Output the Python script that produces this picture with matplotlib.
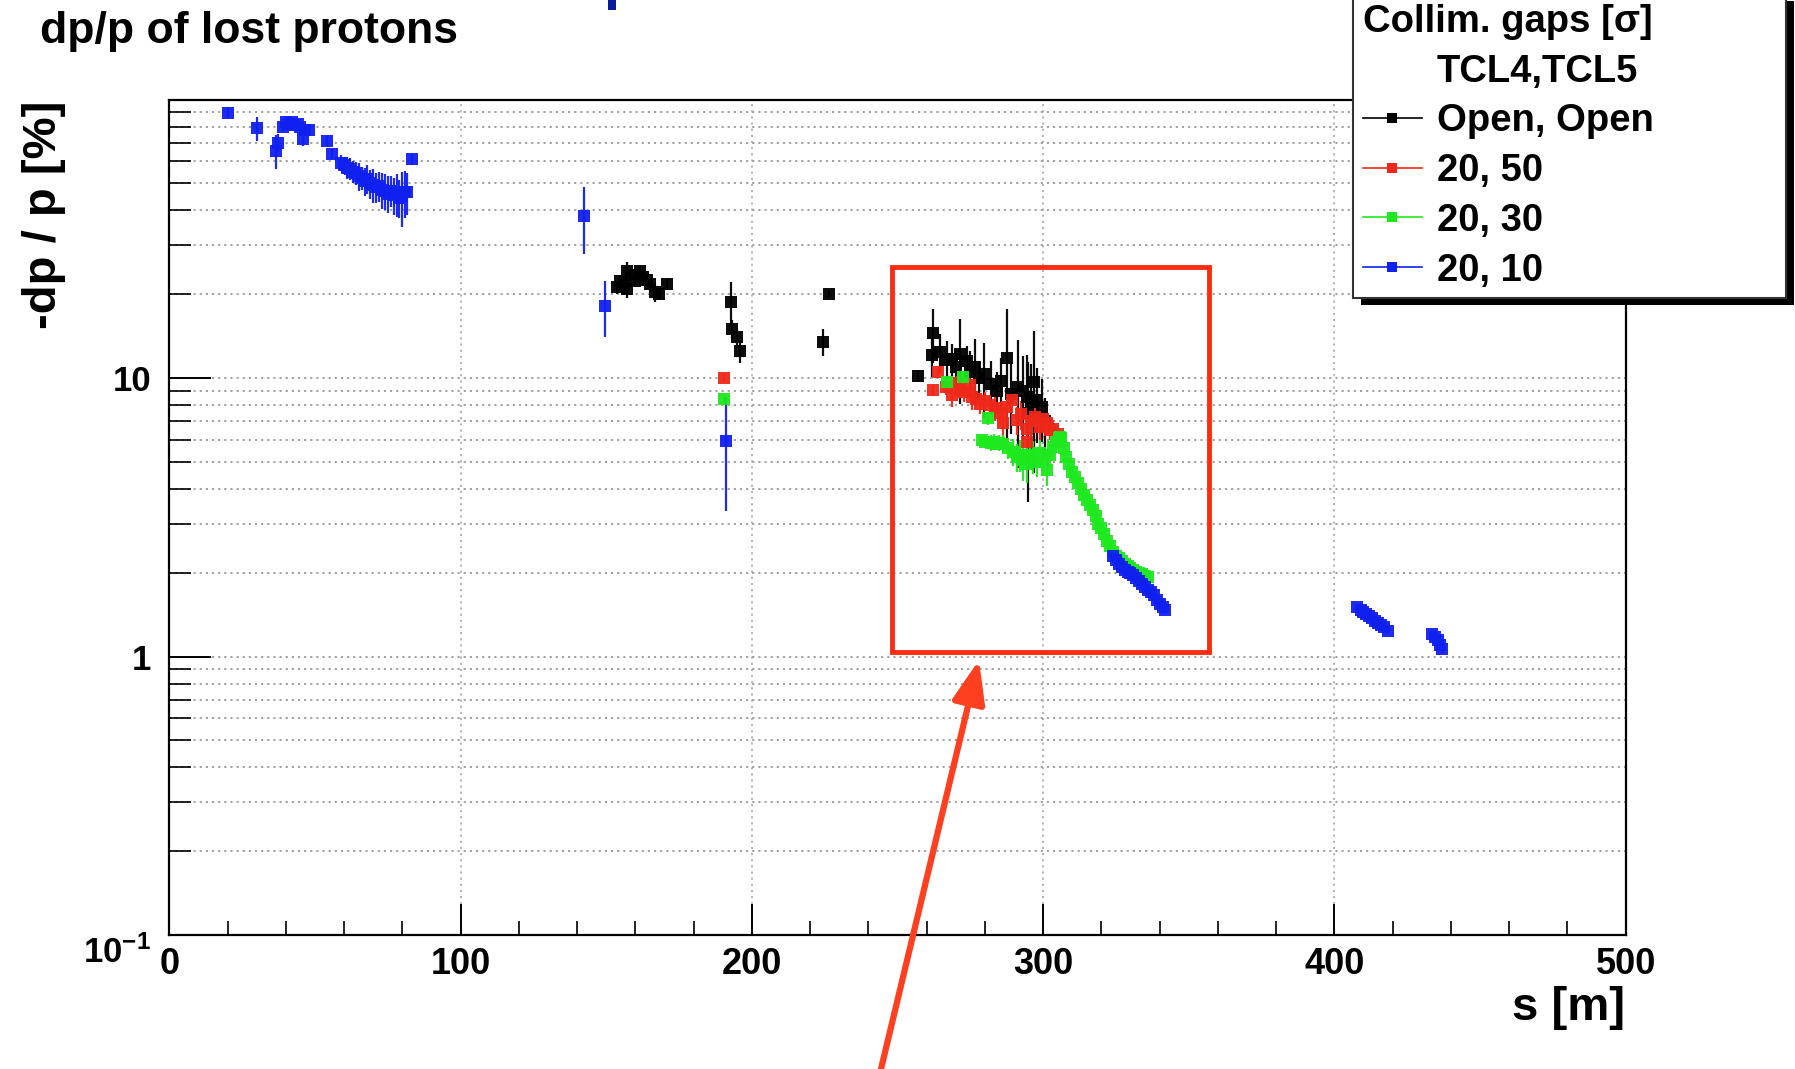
import numpy as np
import matplotlib
matplotlib.use('Agg')
import matplotlib.pyplot as plt
import matplotlib.ticker as ticker
from matplotlib.patches import Rectangle, FancyArrowPatch
from matplotlib.lines import Line2D

plt.rcParams['font.family'] = ['Liberation Sans', 'DejaVu Sans']
plt.rcParams['font.weight'] = 'bold'
plt.rcParams['mathtext.fontset'] = 'custom'
plt.rcParams['mathtext.rm'] = 'Liberation Sans:bold'
plt.rcParams['mathtext.bf'] = 'Liberation Sans:bold'

# ---- data: s [m], -dp/p [%], error ----
s_open = [153.6, 154.7, 156.0, 157.0, 157.0, 158.5, 159.9, 161.6, 162.7, 164.0, 165.0, 166.7, 168.0, 170.8,
          192.7, 193.1, 194.8, 195.9,
          224.5, 226.6,
          256.9, 261.7, 262.3, 264.6, 266.9, 268.6, 270.0, 271.5, 273.8, 275.0, 276.6, 278.0, 279.8,
          282.0, 284.0, 285.5, 287.5, 289.0, 291.5, 293.0, 294.3, 294.9, 296.0, 296.9, 297.8, 299.5, 300.5]
dp_open = [21.2, 22.4, 21.5, 24.3, 20.9, 23.5, 22.4, 24.3, 23.0, 22.5, 21.8, 20.3, 20.0, 21.7,
           18.7, 15.0, 14.0, 12.5,
           13.5, 20.1,
           10.2, 12.1, 14.5, 12.4, 11.6, 11.7, 11.0, 12.2, 11.5, 10.5, 10.96, 10.0, 10.3,
           9.5, 9.0, 9.8, 11.8, 8.8, 9.25, 9.0, 8.56, 7.5, 8.2, 9.68, 8.33, 7.9, 7.0]
err_open = [1.2, 1.0, 1.5, 1.8, 1.5, 1.0, 1.2, 1.0, 1.3, 1.0, 1.2, 1.6, 1.0, 1.0,
            3.4, 1.2, 1.0, 1.2,
            1.5, 0.6,
            0.5, 2.0, 3.2, 2.0, 2.0, 1.5, 1.5, 4.1, 1.5, 2.0, 2.8, 1.5, 3.1,
            2.0, 1.5, 2.0, 5.9, 2.5, 4.5, 3.0, 3.5, 3.9, 3.0, 5.1, 2.5, 2.0, 1.5]

s_50 = [190.5, 262.1, 264.0, 266.5, 268.6, 270.3, 271.5, 273.0, 274.9, 275.5, 277.0, 278.3, 280.0,
        281.8, 283.5, 285.2, 286.3, 287.5, 289.2, 290.9, 292.5, 294.4, 294.6, 296.0, 297.2, 298.9,
        300.0, 301.2, 302.5, 303.5, 305.2]
dp_50 = [10.0, 9.04, 10.5, 9.3, 8.67, 9.6, 9.04, 8.9, 9.42, 8.55, 8.4, 8.1, 8.3,
         8.0, 7.8, 7.47, 6.88, 7.9, 8.33, 7.06, 7.4, 6.59, 5.9, 7.0, 7.26, 6.68,
         7.1, 6.88, 6.5, 6.59, 6.32]
err_50 = [0.3, 0.4, 0.5, 0.6, 0.8, 0.6, 0.5, 0.7, 0.6, 0.9, 0.6, 0.7, 0.6,
          0.6, 0.8, 0.7, 0.9, 1.0, 0.8, 0.8, 0.9, 0.9, 0.8, 0.8, 0.9, 0.7,
          0.6, 0.6, 0.5, 0.5, 0.4]

s_30 = [190.5, 266.9, 272.6, 279.0, 280.0, 281.2, 282.0, 283.0, 284.0, 285.0, 286.3, 288.0, 289.8,
        291.0, 292.0, 293.2, 294.5, 295.5, 296.6, 298.0, 299.0, 300.0, 301.2, 302.5, 303.5, 304.5,
        305.3, 305.8,
        306.0, 307.0, 308.0, 309.0, 310.0, 311.0, 312.0, 313.0, 314.0, 315.0, 316.0, 317.0, 318.0,
        319.0, 320.0, 321.0, 322.0, 323.0, 324.0, 325.0, 326.0, 327.0, 328.0, 329.0, 330.0, 331.0,
        332.0, 333.0, 334.0, 335.0, 336.0]
dp_30 = [8.44, 9.68, 10.1, 6.0, 5.9, 7.17, 5.85, 5.9, 5.8, 5.85, 5.82, 5.6, 5.43,
         5.2, 5.3, 5.08, 4.9, 5.3, 5.22, 5.0, 5.4, 5.1, 4.68, 5.3, 5.66, 5.9,
         6.1, 6.15,
         6.1, 5.6, 5.2, 4.9, 4.6, 4.4, 4.2, 4.0, 3.8, 3.65, 3.5, 3.35, 3.2,
         3.0, 2.9, 2.75, 2.6, 2.5, 2.38, 2.3, 2.25, 2.2, 2.15, 2.12, 2.08, 2.05,
         2.02, 2.0, 1.98, 1.95, 1.93]
err_30 = [0.3, 0.4, 0.4, 0.3, 0.3, 0.4, 0.4, 0.4, 0.3, 0.4, 0.4, 0.5, 0.6,
          0.6, 0.7, 0.8, 0.7, 0.6, 0.7, 0.6, 0.6, 0.5, 0.6, 0.5, 0.4, 0.3,
          0.3, 0.3,
          0.2, 0.2, 0.15, 0.15, 0.15, 0.1, 0.1, 0.1, 0.1, 0.1, 0.1, 0.1, 0.08,
          0.08, 0.08, 0.07, 0.07, 0.07, 0.06, 0.06, 0.05, 0.05, 0.05, 0.05, 0.05, 0.05,
          0.05, 0.05, 0.05, 0.05, 0.05]

s_10 = [20.0, 30.0, 36.6, 37.4, 39.0, 40.0, 41.0, 42.0, 43.0, 44.0, 45.0, 45.9, 46.5, 48.0, 54.0, 56.0,
        59.0, 60.0, 61.0, 62.0, 63.0, 64.0, 65.0, 66.0, 67.0, 68.0, 69.0, 70.0, 71.0, 72.0, 73.0,
        74.0, 75.0, 76.0, 77.0, 78.0, 79.0, 80.0, 81.0, 81.5, 83.2,
        142.5, 149.6, 191.0,
        324.0, 325.0, 326.0, 327.0, 328.0, 329.0, 330.0, 331.0, 332.0, 333.0, 334.0, 335.0, 336.0,
        337.0, 338.0, 339.0, 340.0, 341.0, 342.0,
        407.7, 409.0, 410.0, 411.0, 412.0, 413.0, 414.0, 415.0, 416.0, 417.0, 418.5,
        433.4, 434.5, 435.5, 436.2, 436.9]
dp_10 = [89.8, 78.9, 65.4, 70.0, 80.0, 83.0, 82.0, 83.0, 81.0, 82.0, 80.0, 72.0, 78.0, 77.6, 71.0, 64.0,
         59.4, 58.0, 57.0, 56.5, 55.0, 54.5, 53.0, 52.5, 51.0, 52.0, 50.0, 49.5, 48.5, 49.0, 47.5,
         47.0, 46.0, 47.0, 45.5, 46.0, 44.5, 45.0, 46.5, 46.4, 61.0,
         38.3, 18.2, 5.94,
         2.29, 2.22, 2.15, 2.1, 2.05, 2.02, 2.0, 1.97, 1.92, 1.86, 1.82, 1.78, 1.74,
         1.70, 1.66, 1.60, 1.55, 1.5, 1.47,
         1.50, 1.47, 1.44, 1.42, 1.40, 1.37, 1.34, 1.32, 1.30, 1.28, 1.23,
         1.20, 1.18, 1.15, 1.10, 1.06]
err_10 = [4, 8, 9, 5, 3, 3, 3, 3, 3, 3, 3, 4, 3, 3, 3, 3,
          4, 4, 5, 5, 5, 5, 6, 5, 6, 6, 6, 7, 6, 6, 7,
          7, 7, 6, 7, 8, 7, 10, 9, 8, 3,
          10.4, 4.2, 2.6,
          0.05, 0.05, 0.05, 0.05, 0.05, 0.05, 0.05, 0.05, 0.05, 0.05, 0.05, 0.05, 0.05,
          0.05, 0.05, 0.05, 0.05, 0.05, 0.05,
          0.03, 0.03, 0.03, 0.03, 0.03, 0.03, 0.03, 0.03, 0.03, 0.03, 0.03,
          0.03, 0.03, 0.03, 0.03, 0.03]

labels = ['Open, Open', '20, 50', '20, 30', '20, 10']
colors = ['#000000', '#f0281a', '#1ee81e', '#1020f0']

W, H = 1795, 1069
fig = plt.figure(figsize=(W / 100, H / 100), dpi=100)
ax = fig.add_axes([169.4 / W, 1 - 935 / H, (1625.6 - 169.4) / W, (935 - 99.6) / H])

series = [(s_open, dp_open, err_open), (s_50, dp_50, err_50),
          (s_30, dp_30, err_30), (s_10, dp_10, err_10)]
handles = []
for (s, dp, er), c, lab in zip(series, colors, labels):
    ax.errorbar(s, dp, yerr=er, fmt='s', color=c, ecolor=c, ms=8.5, mew=0,
                elinewidth=1.6, capsize=0, alpha=0.95)
    handles.append(Line2D([], [], color=c, lw=1.2, marker='s', ms=7, mew=0))

ax.set_yscale('log')
ax.set_xlim(0, 500)
ax.set_ylim(0.1, 100)

ax.xaxis.set_major_locator(ticker.MultipleLocator(100))
ax.xaxis.set_minor_locator(ticker.MultipleLocator(20))
ax.yaxis.set_major_locator(ticker.FixedLocator([0.1, 1, 10, 100]))
ax.yaxis.set_minor_locator(ticker.LogLocator(base=10, subs=np.arange(2, 10)))
ax.yaxis.set_major_formatter(ticker.FixedFormatter([r'$\mathbf{10^{-1}}$', '1', '10', '']))
ax.yaxis.set_minor_formatter(ticker.NullFormatter())

ax.tick_params(axis='y', which='major', direction='in', length=30, width=1.4, labelsize=25, pad=13)
ax.tick_params(axis='y', which='minor', direction='in', length=16, width=1.2)
ax.tick_params(axis='x', which='major', direction='in', length=22, width=1.4, labelsize=26, pad=9)
ax.tick_params(axis='x', which='minor', direction='in', length=10, width=1.2)
# push the 10^-1 label down a little, as in the original
ax.get_yticklabels()[0].set_verticalalignment('top')

ax.grid(True, axis='y', which='both', color='#9a9a9a', lw=1.3, ls=(0, (1.2, 2.2)))
ax.grid(True, axis='x', which='major', color='#b0b0b0', lw=1.3, ls=(0, (1.2, 2.2)))
ax.set_axisbelow(True)
for sp in ax.spines.values():
    sp.set_linewidth(1.6)

# texts
fig.text(40 / W, 1 - 31 / H, 'dp/p of lost protons', fontsize=32, weight='bold', ha='left', va='center')
fig.text(44 / W, 1 - 215 / H, '-dp / p [%]', fontsize=34, weight='bold', rotation=90,
         ha='center', va='center')
fig.text(1625 / W, 1 - 1008 / H, 's [m]', fontsize=34, weight='bold', ha='right', va='center')

# piece of slide title at the top
fig.add_artist(Rectangle((608 / W, 1 - 10 / H), 8 / W, 10 / H, transform=fig.transFigure,
                         color='#0a1a9a', lw=0))

# legend
blank = Line2D([], [], color='none')
leg = fig.legend([blank] + handles, ['TCL4,TCL5'] + labels, title='Collim. gaps [σ]',
                 loc='upper left', bbox_to_anchor=(1353 / W, 1 - 5 / H, (1786 - 1353) / W, 0.01),
                 mode='expand', borderaxespad=0, fontsize=27.5, title_fontsize=27.5,
                 alignment='left', handlelength=1.55, handletextpad=0.4, labelspacing=0.36,
                 borderpad=0.25, fancybox=False, edgecolor='#333333', framealpha=1)
leg.get_frame().set_linewidth(1.5)
leg.get_title().set_fontweight('bold')

fig.canvas.draw()
bb = leg.get_window_extent().transformed(fig.transFigure.inverted())
fig.add_artist(Rectangle((bb.x0 + 8 / W, bb.y0 - 7 / H), bb.width, bb.height,
                         transform=fig.transFigure, color='black', lw=0, zorder=leg.get_zorder() - 0.5))

# red highlight box and arrow
fig.add_artist(Rectangle((892 / W, 1 - 652 / H), (1209 - 892) / W, (652 - 267) / H,
                         transform=fig.transFigure, fill=False, ec='#ff2a12', lw=3.5))
fig.add_artist(FancyArrowPatch((881 / W, 0.0), (979 / W, 1 - 660 / H), transform=fig.transFigure,
                               arrowstyle='-|>,head_length=1.3,head_width=0.5', mutation_scale=20,
                               color='#ff4020', lw=4.5, shrinkA=0, shrinkB=0))

fig.savefig('out.png', dpi=100)
